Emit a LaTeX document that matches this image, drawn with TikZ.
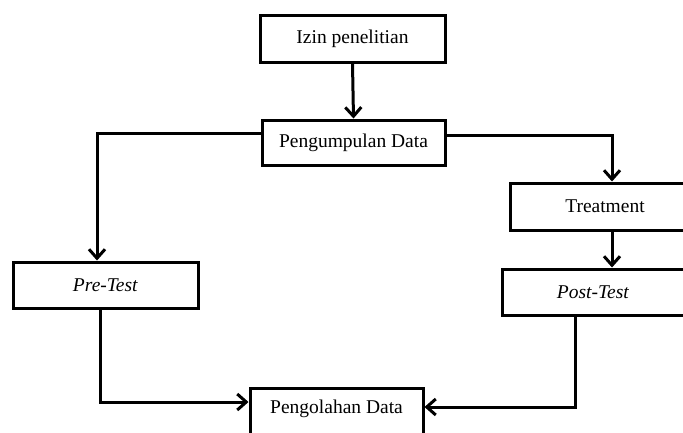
\documentclass[tikz,border=0pt]{standalone}
\usepackage{fontspec}
\setmainfont{Liberation Serif}
\usetikzlibrary{arrows.meta}
\begin{document}
\begin{tikzpicture}[x=1pt,y=-1pt,
  stepbox/.style={draw=black, line width=3pt, fill=white, inner sep=0pt,
    font=\fontsize{19.5}{23}\selectfont},
  conn/.style={line width=3pt, -{Straight Barb[length=9pt,width=16pt,line width=3pt]}}]
\useasboundingbox (0,0) rectangle (683,432);
\clip (0,0) rectangle (683,432);
\fill[white] (0,0) rectangle (683,432);
\node[stepbox, minimum width=185pt, minimum height=47pt] (izin) at (352.5,38.5) {Izin penelitian};
\node[stepbox, minimum width=183pt, minimum height=45pt] (pump) at (353.5,142.5) {Pengumpulan Data};
\node[stepbox, minimum width=185pt, minimum height=46pt] (pre) at (105.5,285) {\textit{Pre-Test}};
\node[stepbox, minimum width=190pt, minimum height=47pt] (treat) at (605,206.5) {Treatment};
\node[stepbox, minimum width=182pt, minimum height=46pt] (post) at (593,292) {\textit{Post-Test}};
\node[stepbox, minimum width=173pt, text height=25pt, text depth=30pt, anchor=north] (peng) at (336.5,387) {Pengolahan Data};
\draw[conn] (izin.south) -- (pump.north);
\draw[conn] ([yshift=9.5pt]pump.west) -| ([xshift=-8.5pt]pre.north);
\draw[conn] ([yshift=7.5pt]pump.east) -| ([xshift=7pt]treat.north);
\draw[conn] ([xshift=7pt]treat.south) -- ([xshift=7pt]treat.south |- post.north);
\draw[conn] ([xshift=-5.5pt]pre.south) |- ([yshift=-15pt]peng.north west);
\draw[conn] ([xshift=-18pt]post.south) |- ([yshift=-20pt]peng.north east);
\end{tikzpicture}
\end{document}
